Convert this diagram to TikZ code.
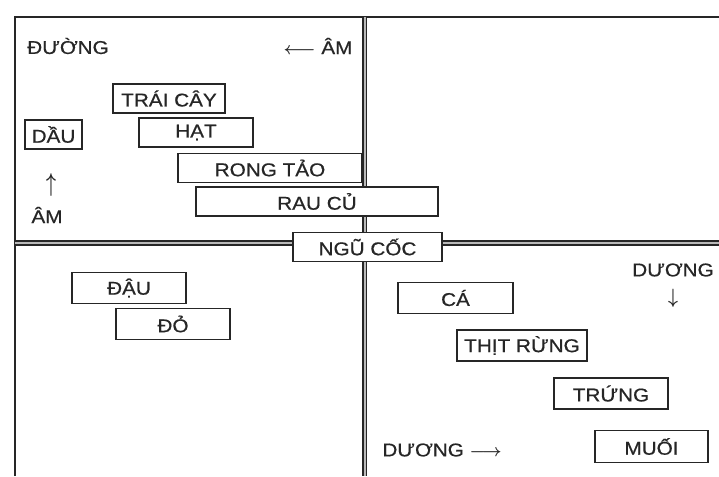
\documentclass[tikz,border=0pt]{standalone}
\usepackage{amsmath}
\usepackage{fontspec}
\setmainfont{Liberation Sans}[FakeStretch=1.12, FakeBold=0.6]
\usepackage{tikz}
\usetikzlibrary{positioning}
\tikzset{
	foodbox/.style={rectangle, draw=black!85, line width=1.8pt, fill=white, inner sep=0pt, minimum height=29pt, text centered, text=black!85, font=\fontsize{18.5}{19}\selectfont},
	axislabel/.style={inner sep=0pt, text=black!85, font=\fontsize{18.5}{19}\selectfont},
	divider/.style={draw=black!85, line width=1.8pt, double=gray!55, double distance=2pt},
}
\begin{document}
\begin{tikzpicture}[x=1pt, y=-1pt]
	\useasboundingbox (0,0) rectangle (719,476);
	% frame and quadrant lines
	\draw[black!85, line width=1.7pt] (15,476) -- (15,17) -- (719,17);
	\draw[divider] (364.5,17) -- (364.5,476);
	\draw[divider] (15,243) -- (719,243);
	% upper left: am
	\node[axislabel] (duong) at (68,46) {ĐƯỜNG};
	\node[axislabel] (amtop) at (318,46) {$\boldsymbol{\longleftarrow}$ ÂM};
	\node[foodbox, minimum width=57pt] (dau) at (53.5,134.5) {DẦU};
	\node[axislabel] (uparr) at (51,185) {\scalebox{1}[1.5]{$\boldsymbol{\uparrow}$}};
	\node[axislabel] (amleft) at (47,215) {ÂM};
	\node[foodbox, minimum width=112pt] (traicay) at (169,98.5) {TRÁI CÂY};
	\node[foodbox, minimum width=114pt] (hat) at (196,132.5) {HẠT};
	\node[foodbox, minimum width=184pt] (rongtao) at (270,168) {RONG TẢO};
	\node[foodbox, minimum width=242pt] (raucu) at (317,201.5) {RAU CỦ};
	\node[foodbox, minimum width=149pt] (ngucoc) at (367.5,247) {NGŨ CỐC};
	% lower left
	\node[foodbox, minimum width=114pt, minimum height=31pt] (daudo) at (129,288) {ĐẬU};
	\node[foodbox, minimum width=114pt, minimum height=31pt] (do) at (173,324) {ĐỎ};
	% lower right: duong
	\node[axislabel] (duongr) at (673,270) {DƯƠNG};
	\node[axislabel] (downarr) at (673,298) {\scalebox{1}[1.2]{$\boldsymbol{\downarrow}$}};
	\node[axislabel] (duongb) at (442,450) {DƯƠNG $\boldsymbol{\longrightarrow}$};
	\node[foodbox, minimum width=115pt, minimum height=31pt] (ca) at (455.5,298) {CÁ};
	\node[foodbox, minimum width=130pt, minimum height=31pt] (thitrung) at (522,345.5) {THỊT RỪNG};
	\node[foodbox, minimum width=114pt, minimum height=31pt] (trung) at (611,393.5) {TRỨNG};
	\node[foodbox, minimum width=113pt, minimum height=32pt] (muoi) at (651.5,446.5) {MUỐI};
\end{tikzpicture}
\end{document}
